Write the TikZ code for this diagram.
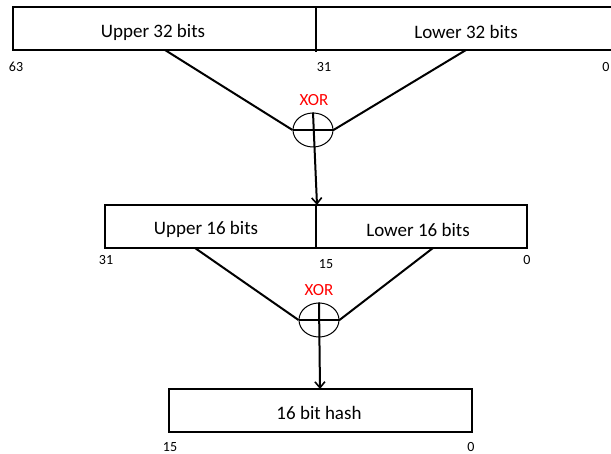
\documentclass[tikz,border=0pt]{standalone}
\usepackage{fontspec}
\setmainfont{Carlito}
\usetikzlibrary{shapes.geometric,arrows.meta}
\begin{document}
\begin{tikzpicture}[x=1pt,y=-1pt,
  box/.style={draw=black,line width=1.2pt,minimum height=43pt,inner sep=0pt,anchor=center},
  lbl/.style={font=\fontsize{19}{22}\selectfont,inner sep=0pt},
  num/.style={font=\fontsize{14}{16}\selectfont,inner sep=0pt},
  xorlbl/.style={font=\fontsize{17}{19}\selectfont,text=red,inner sep=0pt},
  xorc/.style={ellipse,draw=black,line width=1pt,minimum width=40pt,minimum height=34pt,inner sep=0pt},
  conn/.style={line width=2pt},
  arr/.style={line width=2pt,-{Straight Barb[length=6pt,width=10pt,line width=1.6pt]}},
  divider/.style={line width=2pt}]
\useasboundingbox (0,0) rectangle (611,454);
% top box
\node[box,minimum width=612pt] (top) at (319,28.5) {};
\coordinate (tdivA) at (316,7);
\coordinate (tdivB) at (316,52);
\draw[divider] (tdivA) -- (tdivB);
\node[lbl] (up32) at (153,32) {Upper 32 bits};
\node[lbl] (lo32) at (466,32) {Lower 32 bits};
\node[num] (n63) at (16,67) {63};
\node[num] (n31a) at (324,67) {31};
\node[num] (n0a) at (606,67) {0};
% first xor
\node[xorc] (x1) at (313,130) {};
\node[xorlbl] (x1l) at (314,100) {XOR};
\draw[line width=2pt] (x1.west) -- (x1.east);
\coordinate (t1L) at (165,50);
\coordinate (t1R) at (466,50);
\draw[conn] (t1L) -- (x1.west);
\draw[conn] (t1R) -- (x1.east);
% middle box
\node[box,minimum width=422pt] (mid) at (316,226.5) {};
\coordinate (m1top) at (317,205);
\draw[arr] (x1.north) -- (m1top);
\coordinate (mdivA) at (316,205);
\coordinate (mdivB) at (316,248);
\draw[divider] (mdivA) -- (mdivB);
\node[lbl] (up16) at (206,229) {Upper 16 bits};
\node[lbl] (lo16) at (418,230) {Lower 16 bits};
\node[num] (n31b) at (106,260) {31};
\node[num] (n15a) at (326,264) {15};
\node[num] (n0b) at (527,260) {0};
% second xor
\node[xorc] (x2) at (319,320) {};
\node[xorlbl] (x2l) at (319,290) {XOR};
\draw[line width=2pt] (x2.west) -- (x2.east);
\coordinate (m2L) at (195,248);
\coordinate (m2R) at (433,248);
\draw[conn] (m2L) -- (x2.west);
\draw[conn] (m2R) -- (x2.east);
% bottom box
\node[box,minimum width=303pt] (bot) at (320.5,410.5) {};
\coordinate (btop) at (320,389);
\draw[arr] (x2.north) -- (btop);
\node[lbl] (hash) at (319,413) {16 bit hash};
\node[num] (n15b) at (170,447) {15};
\node[num] (n0c) at (471,447) {0};
\end{tikzpicture}
\end{document}
